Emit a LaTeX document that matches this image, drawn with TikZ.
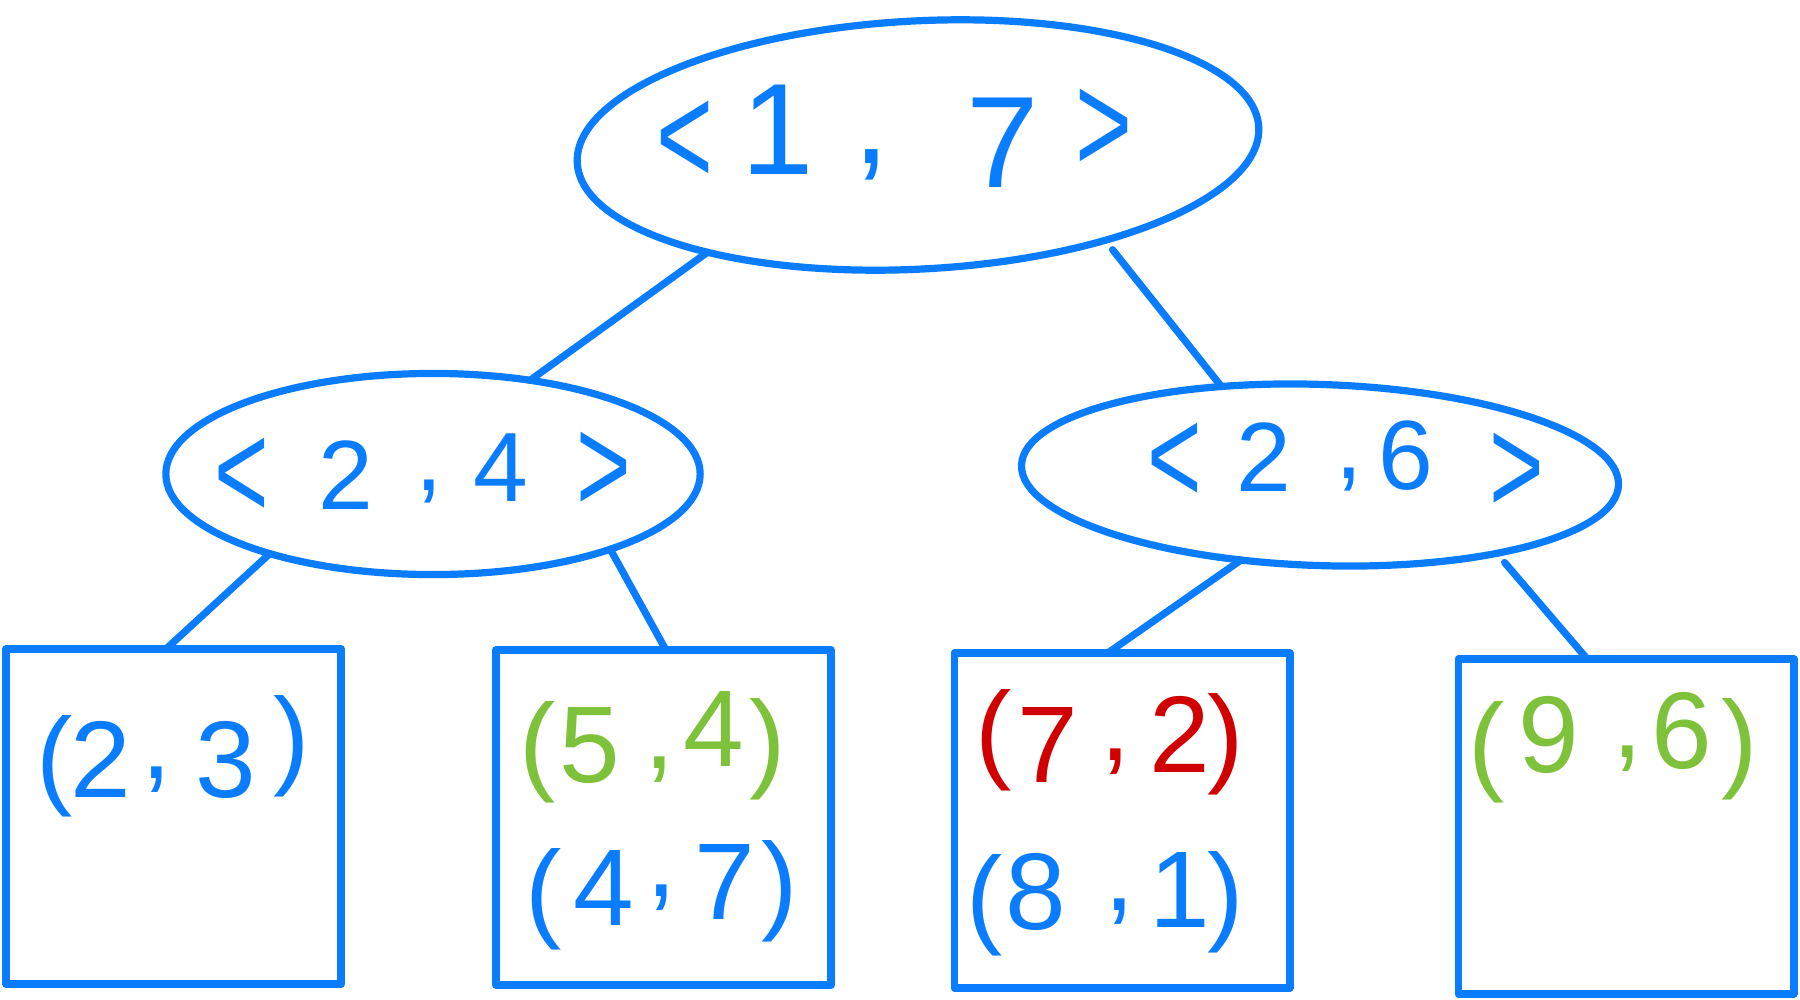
\documentclass[tikz,border=0pt]{standalone}
\usepackage{fontspec}
\usepackage{graphicx}
\setmainfont{Liberation Sans}
\usetikzlibrary{shapes.geometric,calc}
\definecolor{inkblue}{HTML}{0A7CFF}
\definecolor{inkgreen}{HTML}{7DC23A}
\definecolor{inkred}{HTML}{D10000}
% stretched angle brackets for the key tuples
\newcommand\keyopen[2]{\scalebox{#1}[#2]{<}}
\newcommand\keyclose[2]{\scalebox{#1}[#2]{>}}
\begin{document}
\begin{tikzpicture}[x=0.01cm,y=-0.01cm,
  stroke/.style={draw=inkblue,line width=0.072cm,line cap=round,line join=round},
  keyoval/.style={stroke,ellipse,inner sep=0pt,outer sep=0pt},
  leafbox/.style={stroke,rectangle,line width=0.078cm,minimum width=3.35cm,minimum height=3.35cm,inner sep=0pt,outer sep=0pt},
  link/.style={draw=inkblue,line width=0.072cm,line cap=round},
  glyph/.style={inner sep=0pt,outer sep=0pt,anchor=center},
  bigk/.style={glyph,text=inkblue,font=\fontsize{37}{37}\selectfont},
  midk/.style={glyph,text=inkblue,font=\fontsize{28}{28}\selectfont},
  leafk/.style={glyph,font=\fontsize{31}{31}\selectfont},
]
\useasboundingbox (0,0) rectangle (1800,1000);

% ---------- ovals of the tree ----------
\node[keyoval,minimum width=6.82cm,minimum height=2.48cm,rotate=3] (root) at (918,145) {};
\node[keyoval,minimum width=5.34cm,minimum height=2.01cm] (left) at (433,474) {};
\node[keyoval,minimum width=5.97cm,minimum height=1.81cm,rotate=-1.9] (right) at (1320,475) {};

% ---------- leaf boxes ----------
\node[leafbox] (b1) at (173.5,816.5) {};
\node[leafbox] (b2) at (663.5,817.5) {};
\node[leafbox] (b3) at (1122,820.5) {};
\node[leafbox] (b4) at (1626,826.5) {};

% ---------- connectors ----------
\draw[link] (root.204) -- (left.44);
\draw[link,shorten <=0.12cm] (root.330) -- (right.140);
\draw[link] (left.206) -- ($(b1.north west)!0.478!(b1.north east)$);
\draw[link] (left.337) -- ($(b2.north west)!0.507!(b2.north east)$);
\draw[link] (right.229) -- ($(b3.north west)!0.458!(b3.north east)$);
\draw[link,shorten <=0.12cm] (right.338) -- ($(b4.north west)!0.384!(b4.north east)$);

% ---------- root key < 1 , 7 > ----------
\node[bigk] (r1) at (685,143) {\keyopen{0.75}{1.1}};
\node[bigk] (r2) at (778,130) {1};
\node[bigk] (r3) at (872,165) {,};
\node[bigk] (r4) at (1003,143) {7};
\node[bigk] (r5) at (1104,131) {\keyclose{0.75}{1.1}};

% ---------- left key < 2 , 4 > ----------
\node[midk] (l1) at (242,478) {\keyopen{0.95}{1.4}};
\node[midk] (l2) at (346,475) {2};
\node[midk] (l3) at (429,492) {,};
\node[midk] (l4) at (501,468) {4};
\node[midk] (l5) at (604,472) {\keyclose{0.95}{1.4}};

% ---------- right key < 2 , 6 > ----------
\node[midk] (q1) at (1175,463) {\keyopen{0.95}{1.4}};
\node[midk] (q2) at (1264,457) {2};
\node[midk] (q3) at (1349,480) {,};
\node[midk] (q4) at (1406,456) {6};
\node[midk] (q5) at (1517,473) {\keyclose{0.95}{1.4}};

% ---------- leaf 1: (2,3) ----------
\node[leafk,text=inkblue] (a1) at (55,766) {(};
\node[leafk,text=inkblue] (a2) at (101,759) {2};
\node[leafk,text=inkblue] (a3) at (157,780) {,};
\node[leafk,text=inkblue] (a4) at (226,760) {3};
\node[leafk,text=inkblue] (a5) at (292,746) {)};

% ---------- leaf 2: (5,4) and (4,7) ----------
\node[leafk,text=inkgreen] (c1) at (538,752) {(};
\node[leafk,text=inkgreen] (c2) at (590,746) {5};
\node[leafk,text=inkgreen] (c3) at (660,770) {,};
\node[leafk,text=inkgreen] (c4) at (714,729) {4};
\node[leafk,text=inkgreen] (c5) at (768,749) {)};
\node[leafk,text=inkblue] (d1) at (544,899) {(};
\node[leafk,text=inkblue] (d2) at (604,888) {4};
\node[leafk,text=inkblue] (d3) at (662,898) {,};
\node[leafk,text=inkblue] (d4) at (725,882) {7};
\node[leafk,text=inkblue] (d5) at (780,891) {)};

% ---------- leaf 3: (7,2) and (8,1) ----------
\node[leafk,text=inkred] (e1) at (994,740) {(};
\node[leafk,text=inkred] (e2) at (1048,745) {7};
\node[leafk,text=inkred] (e3) at (1116,762) {,};
\node[leafk,text=inkred] (e4) at (1180,734) {2};
\node[leafk,text=inkred] (e5) at (1226,744) {)};
\node[leafk,text=inkblue] (f1) at (985,905) {(};
\node[leafk,text=inkblue] (f2) at (1036,892) {8};
\node[leafk,text=inkblue] (f3) at (1120,912) {,};
\node[leafk,text=inkblue] (f4) at (1180,890) {1};
\node[leafk,text=inkblue] (f5) at (1226,902) {)};

% ---------- leaf 4: (9,6) ----------
\node[leafk,text=inkgreen] (g1) at (1487,752) {(};
\node[leafk,text=inkgreen] (g2) at (1549,735) {9};
\node[leafk,text=inkgreen] (g3) at (1628,759) {,};
\node[leafk,text=inkgreen] (g4) at (1682,731) {6};
\node[leafk,text=inkgreen] (g5) at (1740,749) {)};
\end{tikzpicture}
\end{document}
